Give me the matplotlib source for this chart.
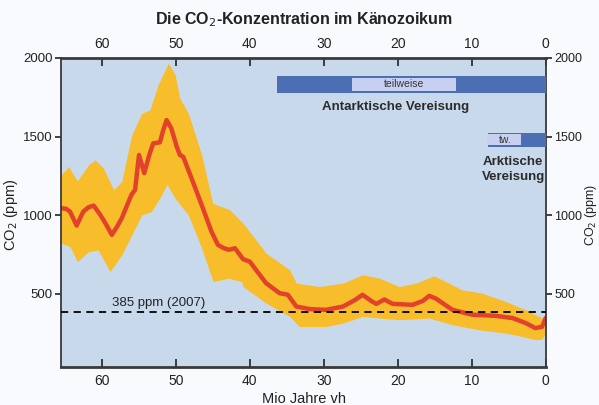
import matplotlib
matplotlib.use('Agg')
import matplotlib.pyplot as plt
import numpy as np

# CO2 (ppm) over the Cenozoic
age_line = [65.4, 64.8, 64.3, 63.4, 62.5, 61.8, 61.1, 60.2, 59.4, 58.65, 57.9, 57.3, 56.0,
            55.5, 54.97, 54.26, 53.6, 53.05, 52.15, 51.7, 51.24, 50.6, 49.9, 49.45, 49.0,
            47.87, 46.5, 45.18, 44.3, 43.5, 42.8, 42.0, 40.9, 40.0, 38.8, 37.8, 35.97,
            34.85, 33.7, 31.9, 29.7, 27.4, 25.8, 24.75, 23.6, 22.9, 21.8, 20.7, 18.0,
            16.6, 15.75, 14.85, 12.6, 9.9, 6.77, 4.5, 2.7, 1.4, 0.5, 0.0]
co2_line = [1044, 1040, 1023, 934, 1023, 1050, 1061, 1002, 940, 875, 930, 981, 1129,
            1161, 1383, 1267, 1380, 1457, 1463, 1540, 1605, 1552, 1440, 1383, 1372,
            1235, 1065, 896, 811, 790, 780, 790, 720, 705, 630, 568, 504,
            494, 419, 403, 398, 419, 460, 494, 455, 436, 464, 436, 430,
            455, 487, 470, 398, 367, 360, 346, 314, 282, 290, 346]

age_hi = [65.5, 64.5, 63.3, 61.8, 60.9, 59.8, 58.4, 57.3, 55.95, 54.6, 53.5, 52.4, 51.0,
          50.1, 49.45, 48.3, 46.5, 45.0, 42.7, 40.9, 37.8, 34.6, 33.7, 30.6, 27.4,
          24.75, 22.5, 19.8, 17.55, 15.1, 13.1, 11.3, 8.6, 5.4, 2.7, 0.9, 0.0]
co2_hi = [1256, 1309, 1218, 1320, 1352, 1300, 1161, 1214, 1510, 1648, 1669, 1828, 1966,
          1895, 1743, 1648, 1383, 1075, 1034, 949, 759, 652, 568, 546, 568,
          621, 600, 546, 568, 614, 568, 525, 504, 451, 398, 356, 335]

age_lo = [65.5, 64.3, 63.3, 61.8, 60.5, 58.9, 57.3, 55.5, 54.6, 53.3, 51.9, 51.2, 50.1,
          48.3, 46.5, 44.96, 42.9, 41.1, 40.9, 37.8, 34.6, 33.3, 29.7, 27.4, 24.75,
          22.5, 19.8, 15.75, 12.6, 9.0, 5.4, 3.2, 1.4, 0.5, 0.0]
co2_lo = [822, 801, 705, 768, 779, 642, 747, 917, 1002, 1023, 1129, 1197, 1108,
          1002, 790, 578, 599, 578, 546, 441, 356, 292, 292, 314, 356,
          346, 335, 346, 303, 271, 250, 229, 208, 212, 250]

co2_2007 = 385
x_ticks = [60, 50, 40, 30, 20, 10, 0]
y_ticks = [500, 1000, 1500, 2000]

# glaciation bars: (start, end) in Mio years
antarctic_full = (36.3, 0.0)
antarctic_part = (26.2, 12.1)
arctic_full = (7.8, 0.0)
arctic_part = (7.8, 3.2)

plt.rcParams['font.family'] = ['Liberation Sans Narrow', 'Liberation Sans', 'DejaVu Sans']

fig = plt.figure(figsize=(5.99, 4.05), dpi=100, facecolor='#f8fafd')
ax = fig.add_axes([0.102, 0.094, 0.809, 0.763])
ax.set_facecolor('#c9d9ec')

# uncertainty band on a common grid of the read points
grid = np.array(sorted(set(age_hi) | set(age_lo)))
hi = np.interp(grid, age_hi[::-1], co2_hi[::-1])
lo = np.interp(grid, age_lo[::-1], co2_lo[::-1])
ax.fill_between(grid, lo, hi, color='#f7bd2a', lw=0, zorder=1)
ax.plot(age_line, co2_line, color='#e2412c', lw=3.2, solid_capstyle='round',
        solid_joinstyle='round', zorder=2)

ax.axhline(co2_2007, color='black', ls=(0, (4, 3)), lw=1.3, zorder=3)
ax.text(58.6, co2_2007 + 40, '385 ppm (2007)', fontsize=9.5, color='#222', zorder=4)

# Antarctic glaciation bar
ax.barh(1831, antarctic_full[0] - antarctic_full[1], left=antarctic_full[1], height=110,
        color='#4c6fb3', zorder=3, clip_on=False)
ax.barh(1831, antarctic_part[0] - antarctic_part[1], left=antarctic_part[1], height=80,
        color='#c8d0f2', zorder=4)
ax.text(sum(antarctic_part) / 2, 1831, 'teilweise', fontsize=7.5, ha='center', va='center',
        color='#333', zorder=5)
ax.text(20.35, 1690, 'Antarktische Vereisung', fontsize=9.5, fontweight='bold',
        ha='center', va='center', color='#2a2a2a', zorder=5)

# Arctic glaciation bar
ax.barh(1479, arctic_full[0] - arctic_full[1], left=arctic_full[1], height=92,
        color='#4c6fb3', zorder=3, clip_on=False)
ax.barh(1479, arctic_part[0] - arctic_part[1], left=arctic_part[1] + 0.1, height=70,
        color='#c8d0f2', zorder=4)
ax.text(sum(arctic_part) / 2, 1479, 'tw.', fontsize=7.5, ha='center', va='center',
        color='#333', zorder=5)
ax.text(4.4, 1290, 'Arktische\nVereisung', fontsize=9.5, fontweight='bold',
        ha='center', va='center', linespacing=1.3, color='#2a2a2a', zorder=5)

ax.set_xlim(65.5, 0)
ax.set_ylim(35, 2000)
ax.set_xticks(x_ticks)
ax.set_yticks(y_ticks)
ax.tick_params(axis='x', which='both', direction='in', top=True, bottom=True,
               labeltop=True, labelbottom=True, length=6, width=1.2, labelsize=10,
               pad=5, colors='#222')
ax.tick_params(axis='y', which='both', direction='out', left=True, right=True,
               labelleft=True, labelright=True, length=4, width=1.2, labelsize=9.5,
               pad=2, colors='#222')
for tick in ax.yaxis.get_major_ticks():
    tick.label2.set_fontsize(9)
for side in ['top', 'bottom']:
    ax.spines[side].set_linewidth(2.0)
    ax.spines[side].set_color('#3a3a3a')
for side in ['left', 'right']:
    ax.spines[side].set_linewidth(1.3)
    ax.spines[side].set_color('#3a3a3a')

fig.text(0.508, 0.952, 'Die CO$_2$-Konzentration im Känozoikum', ha='center', va='center',
         fontsize=11.5, fontweight='bold', color='#222')
fig.text(0.508, 0.016, 'Mio Jahre vh', ha='center', va='center', fontsize=10.5, color='#222')
fig.text(0.019, 0.47, 'CO$_2$ (ppm)', rotation=90, ha='center', va='center',
         fontsize=10.5, color='#222')
fig.text(0.987, 0.47, 'CO$_2$ (ppm)', rotation=90, ha='center', va='center',
         fontsize=9, color='#222')

fig.savefig('out.png', dpi=100, facecolor=fig.get_facecolor())
